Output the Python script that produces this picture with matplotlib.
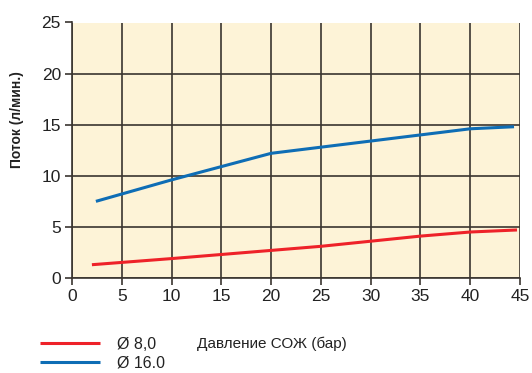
import matplotlib
matplotlib.use("Agg")
import matplotlib.pyplot as plt

plt.rcParams['font.family'] = ['Liberation Sans', 'DejaVu Sans']

# Coolant pressure (bar) vs. flow (l/min) for two nozzle diameters
pressure_8 = [2.0, 10, 15, 20, 25, 30, 35, 40, 44.7]
flow_8 = [1.3, 1.9, 2.3, 2.7, 3.1, 3.6, 4.1, 4.5, 4.7]

pressure_16 = [2.4, 10, 15, 20, 25, 30, 35, 40, 44.4]
flow_16 = [7.5, 9.6, 10.9, 12.2, 12.8, 13.4, 14.0, 14.6, 14.8]

series_labels = ["Ø 8,0", "Ø 16.0"]
x_ticks = [0, 5, 10, 15, 20, 25, 30, 35, 40, 45]
y_ticks = [0, 5, 10, 15, 20, 25]

W, H = 532, 373
fig = plt.figure(figsize=(W / 100, H / 100), dpi=100)
ax = fig.add_axes([72 / W, 1 - 278 / H, 448 / W, (278 - 22.5) / H])
ax.set_facecolor("#FDF3D7")

grid_color = "#3a3530"
ax.set_xlim(0, 45)
ax.set_ylim(0, 25)
ax.set_xticks(x_ticks)
ax.set_yticks(y_ticks)
ax.grid(True, color=grid_color, linewidth=1.2)
ax.set_axisbelow(True)
for side in ["top", "right"]:
    ax.spines[side].set_visible(False)
for side in ["left", "bottom"]:
    ax.spines[side].set_color(grid_color)
    ax.spines[side].set_linewidth(1.2)
ax.tick_params(direction="out", length=5, width=1.2, color=grid_color,
               labelsize=12.5, labelcolor="#222222", pad=3)

l8, = ax.plot(pressure_8, flow_8, color="#EE2229", linewidth=2.2,
              solid_capstyle="butt", clip_on=False)
l16, = ax.plot(pressure_16, flow_16, color="#0E6DB5", linewidth=2.2,
               solid_capstyle="butt", clip_on=False)

fig.text(17 / W, 1 - 120 / H, "Поток (л/мин.)", rotation=90,
         ha="center", va="center", fontsize=10, fontweight="bold", color="#222222")

fig.legend([l8, l16], series_labels, loc="upper left",
           bbox_to_anchor=(40 / W, 1 - 337 / H), frameon=False,
           fontsize=11.5, handlelength=3.75, handletextpad=1.1,
           borderpad=0, borderaxespad=0, labelspacing=0.2,
           labelcolor="#222222")

fig.text(197 / W, 1 - 344 / H, "Давление СОЖ (бар)", ha="left", va="center",
         fontsize=11, color="#222222")

fig.savefig("out.png", dpi=100)
